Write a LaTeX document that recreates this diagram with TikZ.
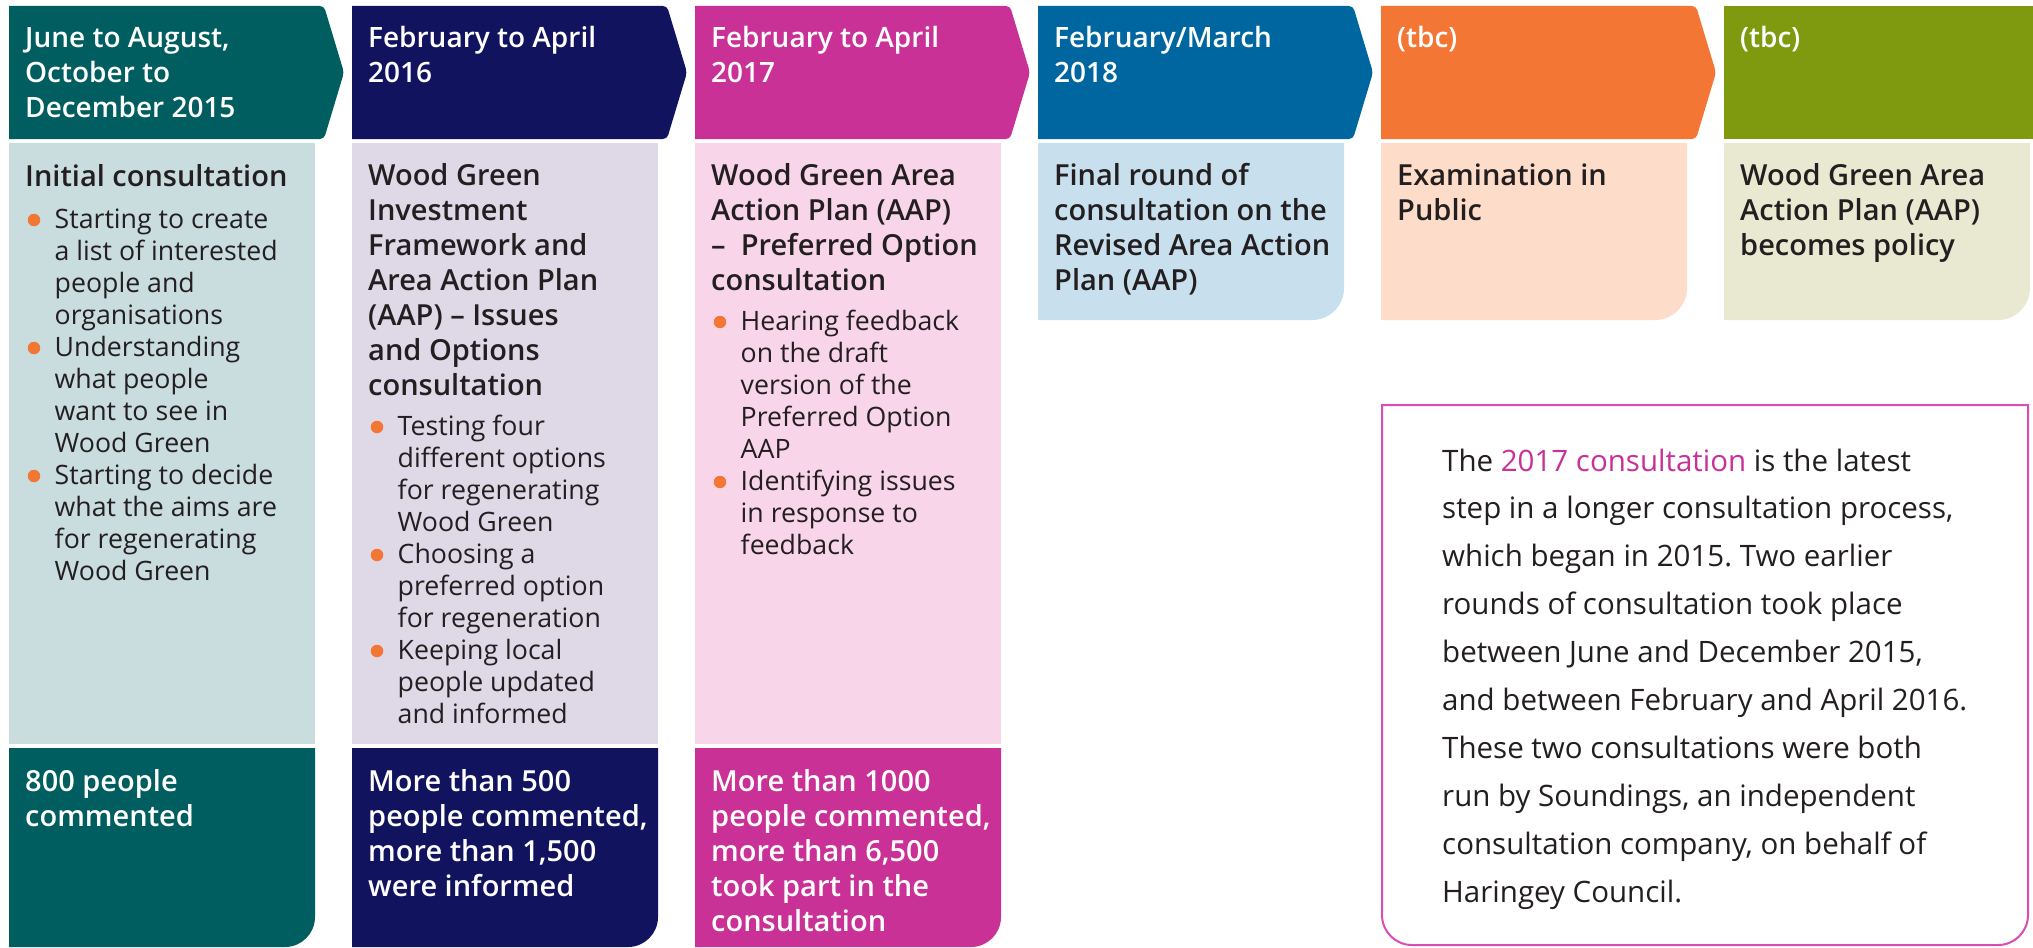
\documentclass[tikz,border=0pt]{standalone}
\usepackage{fontspec}
\setmainfont{Open Sans}
\IfFontExistsTF{Open Sans SemiBold}{\newfontfamily\semib{Open Sans SemiBold}}{\IfFontExistsTF{Open Sans Semibold}{\newfontfamily\semib{Open Sans Semibold}}{\newcommand\semib{\bfseries}}}
\frenchspacing
\definecolor{cA}{HTML}{005E60}\definecolor{cAl}{HTML}{C9DDDF}
\definecolor{cB}{HTML}{12135E}\definecolor{cBl}{HTML}{DED8E7}
\definecolor{cC}{HTML}{C93196}\definecolor{cCl}{HTML}{F9D5E9}
\definecolor{cD}{HTML}{0066A0}\definecolor{cDl}{HTML}{C8DFED}
\definecolor{cE}{HTML}{F37634}\definecolor{cEl}{HTML}{FDDDCA}
\definecolor{cF}{HTML}{7F9A0F}\definecolor{cFl}{HTML}{E9E8D1}
\definecolor{txtdark}{HTML}{231F20}
\definecolor{infob}{HTML}{D94DB5}
\newcommand\tb[1]{\parbox[t]{600pt}{\raggedright\frenchspacing #1}}
\newcommand\TopFont{\semib\fontsize{28}{35}\selectfont}
\newcommand\HeadFont{\semib\fontsize{29}{35}\selectfont}
\newcommand\BulFont{\fontsize{26.7}{32}\selectfont}
\newcommand\InfoFont{\fontsize{29.5}{47.9}\selectfont}
% box with rounded bottom-right corner: colour, x1, y1, x2, y2, r
\newcommand\brbox[6]{\fill[#1] (#2,#3) -- (#4,#3) -- (#4,{#5-#6}) .. controls (#4,{#5-0.448*#6}) and ({#4-0.448*#6},#5) .. ({#4-#6},#5) -- (#2,#5) -- cycle;}
% arrow header: colour, left x
\newcommand\hdrarrow[2]{\fill[#1] (#2,6) [rounded corners=4pt] -- ({#2+315},6) -- ({#2+335},72.5) -- ({#2+315},139) [sharp corners] -- (#2,139) -- cycle;}
\begin{document}
\begin{tikzpicture}[x=1pt,y=-1pt,
  wt/.style={anchor=base west, inner sep=0pt, text=white},
  dk/.style={anchor=base west, inner sep=0pt, text=txtdark},
  bul/.style={circle, fill=cE, inner sep=0pt, minimum size=12.5pt}]
\useasboundingbox (0,0) rectangle (2033,947);
\fill[white] (0,0) rectangle (2033,947);
% ---------- shapes ----------
\hdrarrow{cA}{9}
\hdrarrow{cB}{352}
\hdrarrow{cC}{695}
\hdrarrow{cD}{1038}
\hdrarrow{cE}{1381}
\fill[cF] (1724,6) rectangle (2033,139);
\fill[cAl] (9,143) rectangle (315,744);
\fill[cBl] (352,143) rectangle (658,744);
\fill[cCl] (695,143) rectangle (1001,744);
\brbox{cA}{9}{748}{315}{947}{30}
\brbox{cB}{352}{748}{658}{947}{30}
\brbox{cC}{695}{748}{1001}{947}{30}
\brbox{cDl}{1038}{143}{1344}{320}{32}
\brbox{cEl}{1381}{143}{1687}{320}{32}
\brbox{cFl}{1724}{143}{2030}{320}{32}
\draw[infob, line width=2pt, fill=white] (1382,405) -- (2028,405) -- (2028,915) .. controls (2028,931.6) and (2014.6,945) .. (1998,945) -- (1412,945) .. controls (1395.4,945) and (1382,931.6) .. (1382,915) -- cycle;
% ---------- column 1 ----------
\node[wt] (h1) at (25,47.5) {\tb{\TopFont June to August,\\October to\\December 2015}};
\node[dk] (t1) at (25,186) {\tb{\HeadFont Initial consultation}};
\node[bul] (d11) at (34,220) {};
\node[dk] (i11) at (54.5,228) {\tb{\BulFont Starting to create\\a list of interested\\people and\\organisations}};
\node[bul] (d12) at (34,348) {};
\node[dk] (i12) at (54.5,356) {\tb{\BulFont Understanding\\what people\\want to see in\\Wood Green}};
\node[bul] (d13) at (34,476) {};
\node[dk] (i13) at (54.5,484) {\tb{\BulFont Starting to decide\\what the aims are\\for regenerating\\Wood Green}};
\node[wt] (s1) at (25,791) {\tb{\HeadFont 800 people\\commented}};
% ---------- column 2 ----------
\node[wt] (h2) at (368,47.5) {\tb{\TopFont February to April\\2016}};
\node[dk] (t2) at (368,185) {\tb{\HeadFont Wood Green\\Investment\\Framework and\\Area Action Plan\\(AAP) – Issues\\and Options\\consultation}};
\node[bul] (d21) at (377,427) {};
\node[dk] (i21) at (397.5,435) {\tb{\BulFont Testing four\\different options\\for regenerating\\Wood Green}};
\node[bul] (d22) at (377,555) {};
\node[dk] (i22) at (397.5,563) {\tb{\BulFont Choosing a\\preferred option\\for regeneration}};
\node[bul] (d23) at (377,651) {};
\node[dk] (i23) at (397.5,659) {\tb{\BulFont Keeping local\\people updated\\and informed}};
\node[wt] (s2) at (368,791) {\tb{\HeadFont More than 500\\people commented,\\more than 1,500\\were informed}};
% ---------- column 3 ----------
\node[wt] (h3) at (711,47.5) {\tb{\TopFont February to April\\2017}};
\node[dk] (t3) at (711,185) {\tb{\HeadFont Wood Green Area\\Action Plan (AAP)\\–\ \ Preferred Option\\consultation}};
\node[bul] (d31) at (720,322) {};
\node[dk] (i31) at (740.5,330) {\tb{\BulFont Hearing feedback\\on the draft\\version of the\\Preferred Option\\AAP}};
\node[bul] (d32) at (720,482) {};
\node[dk] (i32) at (740.5,490) {\tb{\BulFont Identifying issues\\in response to\\feedback}};
\node[wt] (s3) at (711,791) {\tb{\HeadFont More than 1000\\people commented,\\more than 6,500\\took part in the\\consultation}};
% ---------- column 4 ----------
\node[wt] (h4) at (1054,47.5) {\tb{\TopFont February/March\\2018}};
\node[dk] (t4) at (1054,185) {\tb{\HeadFont Final round of\\consultation on the\\Revised Area Action\\Plan (AAP)}};
% ---------- column 5 ----------
\node[wt] (h5) at (1397,47.5) {\tb{\TopFont (tbc)}};
\node[dk] (t5) at (1397,185) {\tb{\HeadFont Examination in\\Public}};
% ---------- column 6 ----------
\node[wt] (h6) at (1740,47.5) {\tb{\TopFont (tbc)}};
\node[dk] (t6) at (1740,185) {\tb{\HeadFont Wood Green Area\\Action Plan (AAP)\\becomes policy}};
% ---------- info box ----------
\node[dk] (info) at (1442,471) {\tb{\InfoFont The \textcolor{cC}{2017 consultation} is the latest\\step in a longer consultation process,\\which began in 2015. Two earlier\\rounds of consultation took place\\between June and December 2015,\\and between February and April 2016.\\These two consultations were both\\run by Soundings, an independent\\consultation company, on behalf of\\Haringey Council.}};
\end{tikzpicture}
\end{document}
